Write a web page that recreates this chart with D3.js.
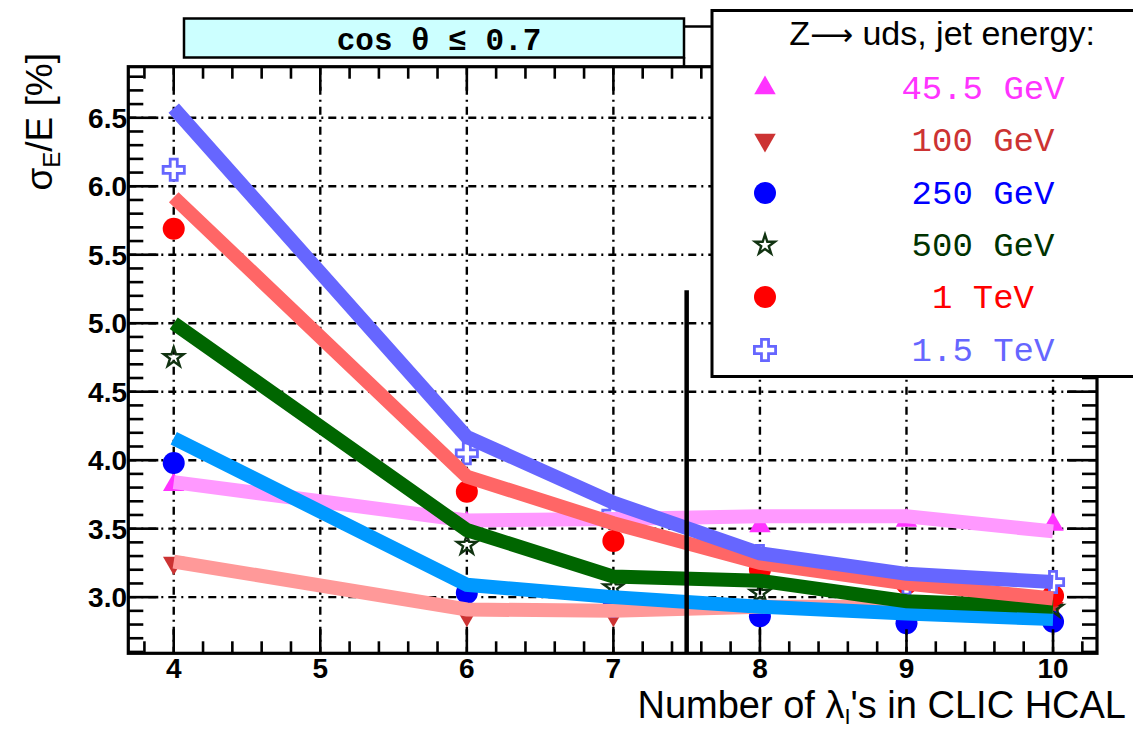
<!DOCTYPE html>
<html>
<head>
<meta charset="utf-8">
<script src="https://cdn.jsdelivr.net/npm/d3@7"></script>
<style>
  body { margin: 0; background: #fff; }
  text { font-family: "Liberation Sans", Arial, sans-serif; }
  .mono { font-family: "Liberation Mono", "Courier New", monospace; }
</style>
</head>
<body>
<div id="chart"></div>
<script>
// x positions: number of interaction lengths
const nLambda = [4, 6, 7, 8, 9, 10];
const energies = ["45.5 GeV", "100 GeV", "250 GeV", "500 GeV", "1 TeV", "1.5 TeV"];

// thick lines (one per jet energy)
const line455 = [3.84, 3.56, 3.57, 3.59, 3.59, 3.48];
const line100 = [3.26, 2.91, 2.90, 2.93, 2.93, 2.93];
const line250 = [4.16, 3.09, 3.00, 2.93, 2.88, 2.84];
const line500 = [5.00, 3.49, 3.15, 3.12, 2.97, 2.93];
const line1000 = [5.92, 3.88, 3.54, 3.25, 3.10, 2.99];
const line1500 = [6.57, 4.17, 3.69, 3.32, 3.17, 3.11];

// markers
const pts455 = [3.82, 3.54, 3.55, 3.52, 3.56, 3.53];
const pts100 = [3.25, 2.87, 2.87, 2.93, 2.92, 2.92];
const pts250 = [3.98, 3.03, 2.93, 2.86, 2.81, 2.82];
const pts500 = [4.75, 3.38, 3.07, 3.03, 2.93, 2.92];
const pts1000 = [5.69, 3.77, 3.41, 3.20, 3.10, 3.01];
const pts1500 = [6.12, 4.05, 3.61, 3.30, 3.10, 3.11];

const xTickLabels = ["4", "5", "6", "7", "8", "9", "10"];
const yTickLabels = ["3.0", "3.5", "4.0", "4.5", "5.0", "5.5", "6.0", "6.5"];

const lineColors = ["#ff99ff", "#ff9999", "#0099ff", "#006600", "#ff6666", "#6666ff"];
const markerColors = ["#ff33ff", "#cc3333", "#0000ff", "#113311", "#ff0000", "#6666ff"];
const textColors = ["#ff33ff", "#cc3333", "#0000ff", "#003300", "#ff0000", "#6666ff"];

const lines = [line455, line100, line250, line500, line1000, line1500];
const points = [pts455, pts100, pts250, pts500, pts1000, pts1500];

const W = 1133, H = 731;
const frame = { left: 128.3, right: 1097, top: 66.7, bottom: 653.3 };

const svg = d3.select("#chart").append("svg")
    .attr("width", W).attr("height", H);

const x = d3.scaleLinear().domain([3.69, 10.3]).range([frame.left, frame.right]);
const y = d3.scaleLinear().domain([2.59, 6.873]).range([frame.bottom, frame.top]);

// grid
const dash = "8,5,2,5";
svg.append("g").selectAll("line").data(xTickLabels).enter().append("line")
    .attr("x1", d => x(+d)).attr("x2", d => x(+d))
    .attr("y1", frame.top).attr("y2", frame.bottom)
    .attr("stroke", "#000").attr("stroke-width", 2.4).attr("stroke-dasharray", dash);
svg.append("g").selectAll("line").data(yTickLabels).enter().append("line")
    .attr("y1", d => y(+d)).attr("y2", d => y(+d))
    .attr("x1", frame.left).attr("x2", frame.right)
    .attr("stroke", "#000").attr("stroke-width", 2.4).attr("stroke-dasharray", dash);

// marker shapes
function markerPath(i) {
    if (i === 0) return d3.symbol().type(d3.symbolTriangle).size(200)();
    if (i === 1) return d3.symbol().type(d3.symbolTriangle).size(200)();
    if (i === 2 || i === 4) return d3.symbol().type(d3.symbolCircle).size(380)();
    if (i === 3) return d3.symbol().type(d3.symbolStar).size(120)();
    return d3.symbol().type(d3.symbolCross).size(250)();
}
function drawMarker(g, i, cx, cy) {
    const p = g.append("path")
        .attr("d", markerPath(i))
        .attr("transform", `translate(${cx},${cy})` + (i === 1 ? " rotate(180)" : ""));
    if (i === 3) {
        p.attr("fill", "none").attr("stroke", markerColors[i]).attr("stroke-width", 2.4);
    } else if (i === 5) {
        p.attr("fill", "#fff").attr("stroke", markerColors[i]).attr("stroke-width", 2.8);
    } else {
        p.attr("fill", markerColors[i]);
    }
}

// markers sit under the thick lines
const gm = svg.append("g");
points.forEach((vals, i) => {
    vals.forEach((v, k) => drawMarker(gm, i, x(nLambda[k]), y(v)));
});

const lineGen = d3.line().x((d, k) => x(nLambda[k])).y(d => y(d));
svg.append("g").selectAll("path").data(lines).enter().append("path")
    .attr("d", lineGen)
    .attr("fill", "none")
    .attr("stroke", (d, i) => lineColors[i])
    .attr("stroke-width", 14)
    .attr("stroke-linejoin", "miter");

// minor/major ticks
const xMinor = d3.range(3.8, 10.31, 0.2);
const yMinor = d3.range(2.6, 6.87, 0.1);
const tk = svg.append("g").attr("stroke", "#000").attr("stroke-width", 2.6);
xMinor.forEach(v => {
    const major = Math.abs(v - Math.round(v)) < 1e-6;
    const len = major ? 24 : 12;
    tk.append("line").attr("x1", x(v)).attr("x2", x(v)).attr("y1", frame.bottom).attr("y2", frame.bottom - len);
    tk.append("line").attr("x1", x(v)).attr("x2", x(v)).attr("y1", frame.top).attr("y2", frame.top + len);
});
yMinor.forEach(v => {
    const major = Math.abs(v * 2 - Math.round(v * 2)) < 1e-6;
    const len = major ? 30 : 15;
    tk.append("line").attr("y1", y(v)).attr("y2", y(v)).attr("x1", frame.left).attr("x2", frame.left + len);
    tk.append("line").attr("y1", y(v)).attr("y2", y(v)).attr("x1", frame.right).attr("x2", frame.right - len);
});

// frame
svg.append("rect")
    .attr("x", frame.left).attr("y", frame.top)
    .attr("width", frame.right - frame.left).attr("height", frame.bottom - frame.top)
    .attr("fill", "none").attr("stroke", "#000").attr("stroke-width", 3.2);

// tick labels
svg.append("g").selectAll("text").data(xTickLabels).enter().append("text")
    .attr("x", d => x(+d)).attr("y", 678)
    .attr("text-anchor", "middle")
    .style("font-size", "28px").style("font-weight", "bold")
    .text(d => d);
svg.append("g").selectAll("text").data(yTickLabels).enter().append("text")
    .attr("x", 127).attr("y", d => y(+d) + 10)
    .attr("text-anchor", "end")
    .style("font-size", "28px").style("font-weight", "bold")
    .text(d => d);

// axis titles
const xt = svg.append("text")
    .attr("x", 1126).attr("y", 718)
    .attr("text-anchor", "end")
    .style("font-size", "38px");
xt.append("tspan").text("Number of λ");
xt.append("tspan").attr("dy", 6).style("font-size", "22px").text("I");
xt.append("tspan").attr("dy", -6).text("'s in CLIC HCAL");

const yt = svg.append("text")
    .attr("transform", "translate(52,53) rotate(-90)")
    .attr("text-anchor", "end")
    .style("font-size", "37px");
yt.append("tspan").text("σ");
yt.append("tspan").attr("dy", 8).style("font-size", "24px").text("E");
yt.append("tspan").attr("dy", -8).text("/E [%]");

// cut line at 7.5
svg.append("line")
    .attr("x1", x(7.5)).attr("x2", x(7.5))
    .attr("y1", y(5.24)).attr("y2", frame.bottom)
    .attr("stroke", "#000").attr("stroke-width", 4.5);

// title box
svg.append("rect")
    .attr("x", 184).attr("y", 18.5).attr("width", 500).attr("height", 39)
    .attr("fill", "#ccffff").attr("stroke", "#000").attr("stroke-width", 2.5);
svg.append("line").attr("x1", 684).attr("x2", 684).attr("y1", 57).attr("y2", frame.top)
    .attr("stroke", "#000").attr("stroke-width", 2.5);
svg.append("line").attr("x1", 684).attr("x2", 712).attr("y1", 26.5).attr("y2", 26.5)
    .attr("stroke", "#000").attr("stroke-width", 2.5);
svg.append("text").attr("class", "mono")
    .attr("x", 439).attr("y", 50)
    .attr("text-anchor", "middle")
    .style("font-size", "31px").style("font-weight", "bold")
    .text("cos θ ≤ 0.7");

// legend
const lg = svg.append("g");
lg.append("rect")
    .attr("x", 712).attr("y", 10.5).attr("width", 440).attr("height", 366)
    .attr("fill", "#fff").attr("stroke", "#000").attr("stroke-width", 3);
const hd = lg.append("text")
    .attr("x", 942).attr("y", 45)
    .attr("text-anchor", "middle")
    .style("font-size", "34px");
hd.append("tspan").text("Z");
hd.append("tspan").style("font-family", "'DejaVu Sans', sans-serif").style("font-size", "30px").text("⟶");
hd.append("tspan").text(" uds, jet energy:");
const rowY = [88, 140, 193, 245, 297, 350];
energies.forEach((e, i) => {
    drawMarker(lg, i, 765, rowY[i]);
    lg.append("text").attr("class", "mono")
        .attr("x", 983).attr("y", rowY[i] + 11)
        .attr("text-anchor", "middle")
        .attr("fill", textColors[i])
        .style("font-size", "34px")
        .text(e);
});
</script>
</body>
</html>
